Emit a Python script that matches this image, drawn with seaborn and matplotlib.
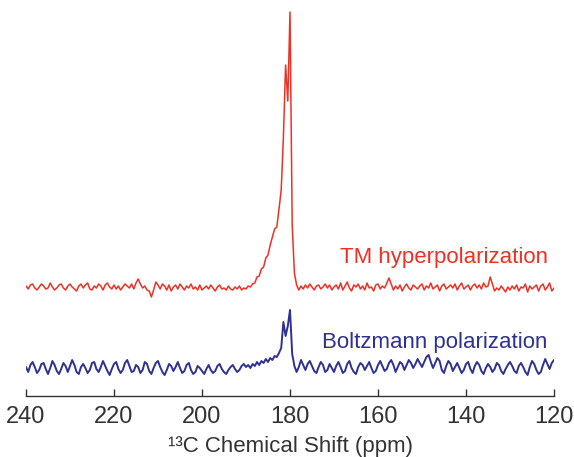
import numpy as np
import pandas as pd
import matplotlib
matplotlib.use("Agg")
import matplotlib.pyplot as plt
import seaborn as sns

# chemical shift grid, 240 -> 120 ppm in 0.5 ppm steps (241 points)
ppm = np.linspace(240, 120, 241)

# TM hyperpolarized spectrum (intensity above its own baseline, arb. units)
tm_signal = [
    # 240 - 230.5
    1, -2, 2, 3, -1, -3, 0, 3, 1, -2, -1, 4, 0, -3, -1, 2, 3, -1, -3, 1,
    # 230 - 220.5
    3, 0, -2, -4, 1, 3, -1, 2, 4, -2, -3, 1, -1, 3, 1, -3, 2, 4, 0, -2,
    # 220 - 210.5
    2, -2, 1, -3, 0, 3, 1, -1, 3, -2, 4, 8, 3, -1, 1, -3, -4, -10, -3, 5,
    # 210 - 200.5
    2, -2, 3, 1, -3, 2, -4, 0, 2, -2, 3, 0, -3, 1, -1, 3, -2, 0, -3, 2,
    # 200 - 190.5
    -3, -1, 1, -2, 2, -1, -4, 0, 2, -2, -1, -3, 1, -2, -3, 0, -2, 1, -3, -1,
    # 190 - 189.5
    -2, 1,
    # 189 - 178 (carbonyl peak)
    0, 3, 4, 10, 11, 18, 20, 29, 32, 42, 50, 58, 60, 78, 97, 150,
    222, 186, 275, 62, 14, 2, -3,
    # 177.5 - 170.5
    1, -2, 2, -1, 3, 0, -3, 1, 2, -2, 0, 3, -1, 2, -3,
    # 170 - 160.5
    0, 2, -2, 4, -3, 1, 5, -1, -4, 2, 0, 3, -2, 1, -3, 4, -1, 0, -4, 2,
    # 160 - 150.5
    3, -2, 1, -1, 4, 9, 3, -3, 1, -2, 2, -4, 0, 3, -1, -3, 2, 0, -2, 1,
    # 150 - 140.5
    3, -3, 1, -1, 4, -2, 0, 2, -4, 1, 3, -2, 0, 2, -1, 3, -3, 1, 4, -2,
    # 140 - 130.5
    0, 2, -3, 1, 3, -1, 2, -2, 4, 0, 1, 10, 3, -4, -1, -3, 1, -2, -5, 0,
    # 130 - 120
    -3, 1, -2, 2, -4, 0, -1, 3, -5, 1, -2, 0, 2, -4, 1, 3, -3, 0, 4, -4, -1,
]

# Boltzmann (thermal) spectrum
boltz_signal = [
    # 240 - 230.5
    1, -4, 3, 6, 1, -5, -2, 4, 5, -1, -6, 0, 7, 3, -3, -6, -1, 5, 2, -4,
    # 230 - 220.5
    2, 8, 3, -4, -6, 1, 4, 0, -5, -2, 5, 6, -1, -4, 1, 7, 2, -3, -7, -1,
    # 220 - 210.5
    4, 6, -1, -5, -2, 5, 8, 2, -4, -3, 3, 1, -5, -2, 6, 4, -3, -6, 0, 5,
    # 210 - 200.5
    7, 1, -4, -7, -2, 4, 2, -3, 1, 6, 0, -5, -3, 3, 5, -2, -6, -4, 2, 0,
    # 200 - 190.5
    -3, -6, -1, 3, -2, -5, -3, 2, 4, -1, -4, -6, -2, 1, 3, -1, -4, -2, 2, 4,
    # 190 - 189.5
    1, 3,
    # 189 - 178
    0, 4, 2, 6, 3, 7, 5, 9, 6, 10, 8, 12, 11, 15, 20, 46,
    32, 42, 58, 14, 2, -4, 1,
    # 177.5 - 170.5
    8, 3, -2, 4, 7, 2, -3, -5, 1, 6, 3, -4, -2, 4, 0,
    # 170 - 160.5
    -4, 2, 6, 1, -5, -3, 4, 7, 0, -4, -6, 1, 5, 3, -2, 2, 6, 0, -5, -3,
    # 160 - 150.5
    3, 7, 2, -3, -1, 5, 8, 3, -4, 1, 6, 4, -2, 3, 8, 5, 0, 4, 9, 5,
    # 150 - 140.5
    1, 6, 11, 13, 6, 0, 5, 10, 7, -2, -5, 2, 7, 4, -3, 1, 5, 0, -5, -2,
    # 140 - 130.5
    4, 6, -1, -5, 2, 6, 3, -3, -6, 0, 4, 1, -4, -1, 5, 3, -3, -6, -1, 3,
    # 130 - 120
    6, 2, -3, -5, 2, 5, 1, -4, -7, 1, 7, 4, -2, -6, -4, 3, 9, 4, -1, 5, 8,
]

labels = ["TM hyperpolarization", "Boltzmann polarization"]
ticks = [240, 220, 200, 180, 160, 140, 120]

red = "#EE3124"
blue = "#2E3192"

sns.set_style("white")
plt.rcParams["font.family"] = ["Liberation Sans", "DejaVu Sans"]

df = pd.DataFrame({
    "ppm": np.concatenate([ppm, ppm]),
    "intensity": np.concatenate([np.array(tm_signal) + 109,
                                 np.array(boltz_signal) + 28]),
    "spectrum": [labels[0]] * len(ppm) + [labels[1]] * len(ppm),
})

fig = plt.figure(figsize=(5.74, 4.57), dpi=100)
ax = fig.add_axes([26 / 574, 61 / 457, 528 / 574, 391 / 457])

sns.lineplot(data=df[df.spectrum == labels[0]], x="ppm", y="intensity",
             color=red, lw=1.1, ax=ax)
sns.lineplot(data=df[df.spectrum == labels[1]], x="ppm", y="intensity",
             color=blue, lw=1.4, ax=ax)

ax.text(121.4, 133, labels[0], color=red, fontsize=16, ha="right", va="baseline")
ax.text(121.4, 48, labels[1], color=blue, fontsize=16, ha="right", va="baseline")

ax.set_xlim(240, 120)
ax.set_ylim(0, 391)
ax.set_xticks(ticks)
ax.set_yticks([])
ax.set_ylabel("")
ax.set_xlabel("¹³C Chemical Shift (ppm)", fontsize=16, color="#333333", labelpad=6)
ax.tick_params(axis="x", direction="in", length=5, width=1, color="#333333",
               labelsize=17, labelcolor="#333333", pad=7, bottom=True)
for side in ["top", "left", "right"]:
    ax.spines[side].set_visible(False)
ax.spines["bottom"].set_color("#333333")
ax.spines["bottom"].set_linewidth(1)

fig.savefig("out.png", dpi=100)
